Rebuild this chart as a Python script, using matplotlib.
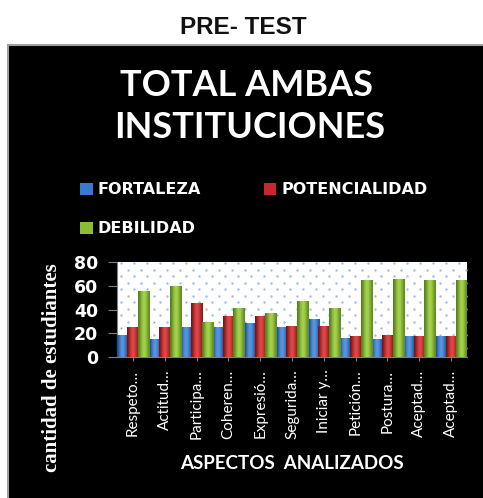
import matplotlib.pyplot as plt
from matplotlib.patches import Rectangle
from matplotlib.colors import LinearSegmentedColormap
import numpy as np

# data
aspectos = ["Respeto…", "Actitud…", "Participa…", "Coheren…", "Expresió…",
            "Segurida…", "Iniciar y…", "Petición…", "Postura…", "Aceptad…", "Aceptad…"]
fortaleza = [18, 15, 25, 25, 28, 25, 32, 16, 15, 17, 17]
potencialidad = [25, 25, 45, 34, 34, 26, 26, 17, 18, 17, 17]
debilidad = [55, 59, 29, 41, 37, 47, 41, 64, 65, 64, 64]
yticks = [0, 20, 40, 60, 80]

# name, values, flat colour, (dark edge, highlight) for the cylinder shading
series = [("FORTALEZA", fortaleza, "#3a7bd0", ("#1a4a8e", "#5b9ae6")),
          ("POTENCIALIDAD", potencialidad, "#c8282c", ("#7e1216", "#e24a4a")),
          ("DEBILIDAD", debilidad, "#8cbb36", ("#557f18", "#a8d650"))]

fig = plt.figure(figsize=(4.83, 4.98), dpi=100)
fig.patch.set_facecolor("white")

# black chart box
box = Rectangle((8/483, -0.01), 1, 1 - 45/498 + 0.01, transform=fig.transFigure,
                facecolor="black", edgecolor="#a0a0a0", linewidth=1.5, zorder=-10)
fig.patches.append(box)

fig.text(243/483, 1 - 27/498, "PRE- TEST", ha="center", va="center",
         fontsize=17.5, fontweight="bold", family="Liberation Sans", color="#111111")
fig.text(247/483, 1 - 85/498, "TOTAL AMBAS", ha="center", va="center",
         fontsize=26, fontweight="bold", family="Lato", color="white")
fig.text(250/483, 1 - 128/498, "INSTITUCIONES", ha="center", va="center",
         fontsize=26, fontweight="bold", family="Lato", color="white")

ax = fig.add_axes([117/483, 1 - 357/498, 350/483, 95/498])
ax.set_facecolor("white")

# dotted background
gx, gy = np.meshgrid(np.arange(4, 350, 13), np.arange(3, 95, 13))
bx = np.concatenate([gx.ravel(), gx.ravel() + 6.5])
by = np.concatenate([gy.ravel(), gy.ravel() + 6.5])
ax.scatter(bx / 350, by / 95, s=3, color="#9dbde6", transform=ax.transAxes,
           zorder=0, linewidths=0, clip_on=True)

x = np.arange(len(aspectos))
w = 1 / 3
bars = []
shade = np.array([0.0, 0.4, 0.8, 1.0, 0.85, 0.5, 0.15])
for i, (name, vals, col, (dark, light)) in enumerate(series):
    b = ax.bar(x + (i - 1) * w, vals, width=w, color=col, label=name, zorder=2)
    bars.append(b)
    cmap = LinearSegmentedColormap.from_list(name, [dark, light])
    for p in b.patches:
        x0, h = p.get_x(), p.get_height()
        ax.imshow(shade[None, :], cmap=cmap, vmin=0, vmax=1, aspect="auto",
                  interpolation="bicubic",
                  extent=(x0 - 0.008, x0 + p.get_width() + 0.008, 0, h), zorder=3)

ax.set_xlim(-0.5, len(aspectos) - 0.5)
ax.set_ylim(0, 80)
ax.set_yticks(yticks)
ax.set_yticklabels([str(v) for v in yticks], color="white", fontsize=12.5,
                   fontweight="bold", family="DejaVu Sans")
ax.set_xticks(x)
ax.set_xticklabels(aspectos, rotation=90, color="white", fontsize=11,
                   family="Lato", va="top")
ax.tick_params(axis="y", length=6.5, color="#808080", pad=7)
ax.tick_params(axis="x", length=3, color="#808080", pad=6)
for s in ["top", "right"]:
    ax.spines[s].set_visible(False)
ax.spines["left"].set_color("#808080")
ax.spines["bottom"].set_color("#808080")

fig.text(52/483, 1 - 368/498, "cantidad de estudiantes", rotation=90, ha="center",
         va="center", fontsize=15, fontweight="bold", family="Liberation Serif", color="white")
fig.text(292/483, 1 - 463/498, "ASPECTOS  ANALIZADOS", ha="center", va="center",
         fontsize=13.5, fontweight="bold", family="Lato", color="white")

# legend filled column-wise, so reorder to get F, P on first row and D below
fig.legend(handles=[bars[0], bars[2], bars[1]], loc="upper left",
           bbox_to_anchor=(66/483, 1 - 168/498), ncol=2, frameon=False,
           handlelength=0.8, handleheight=0.8, handletextpad=0.3,
           columnspacing=3.9, labelspacing=1.5,
           prop={"weight": "bold", "size": 11.5, "family": "DejaVu Sans"},
           labelcolor="white")

fig.savefig("out.png", dpi=100, facecolor=fig.get_facecolor())
